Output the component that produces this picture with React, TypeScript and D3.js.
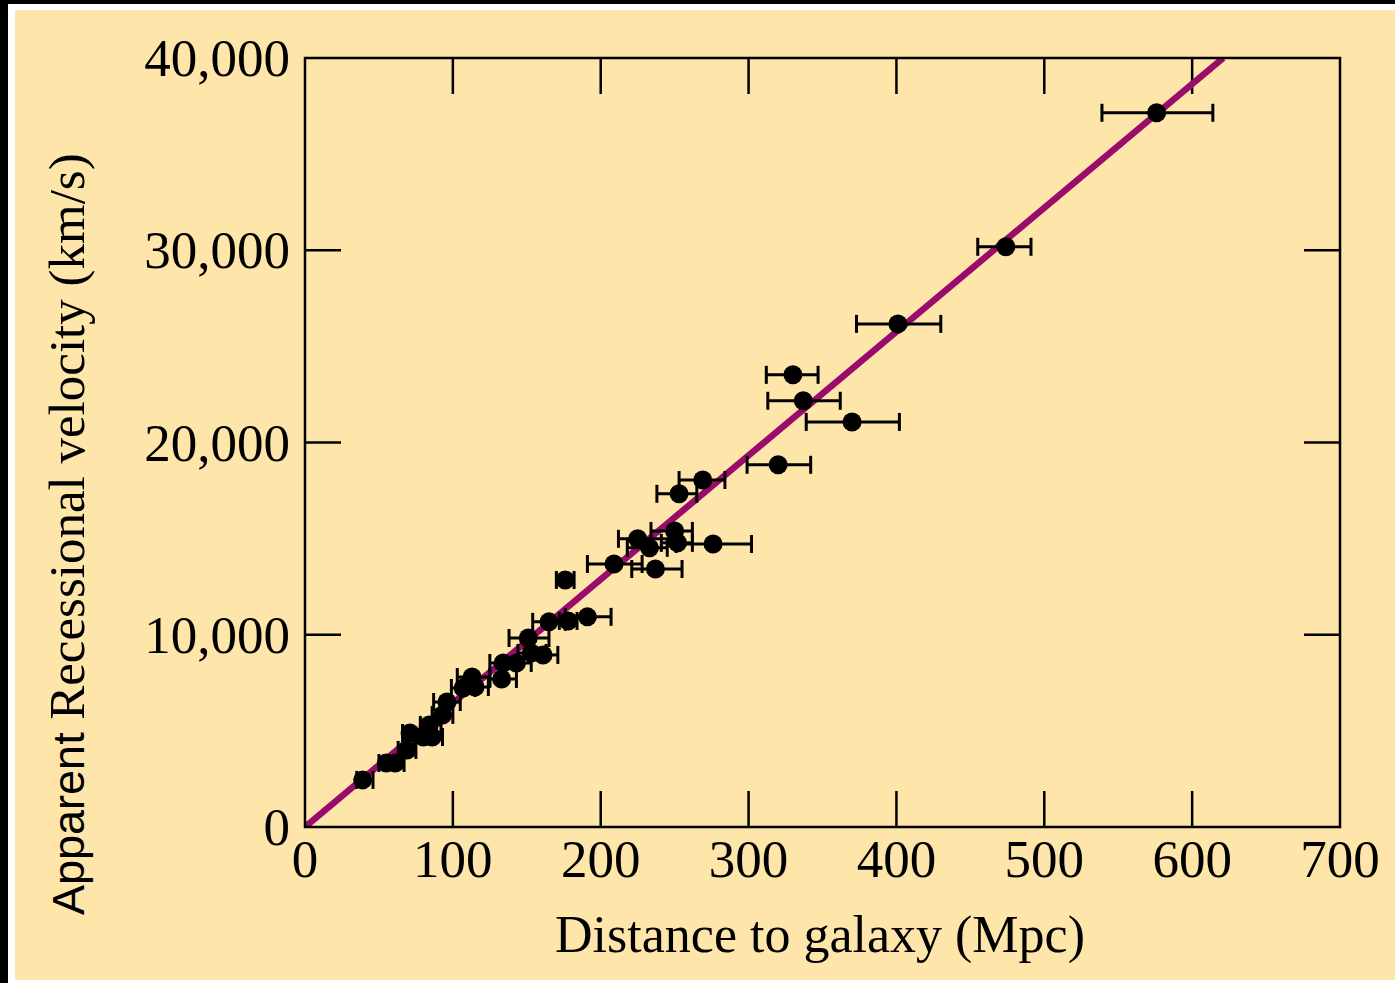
import React from 'react';
import * as d3 from 'd3';

// distance (Mpc), velocity (km/s), distance error bar ends (Mpc)
const DIST = [576, 474, 401, 330, 337, 370, 320, 269, 253, 250, 225, 233, 252, 276, 209, 237, 176, 191, 178, 165,
  151, 161, 153, 143, 134, 133, 113, 115, 107, 96, 93, 84, 86, 71, 80, 69, 61, 55, 39];
const VEL = [37150, 30180, 26170, 23520, 22170, 21070, 18840, 18050, 17330, 15400, 14990, 14520, 14780, 14720, 13680,
  13420, 12850, 10930, 10720, 10670, 9830, 8950, 9050, 8530, 8530, 7700, 7800, 7280, 7230, 6500, 5830, 5310, 4680,
  4890, 4680, 4010, 3330, 3330, 2450];
const ERR_LO = [539, 455, 373, 312, 313, 339, 299, 253, 238, 234, 212, 218, 241, 251, 191, 221, 170, 176, 172, 154,
  138, 152, 144, 134, 125, 125, 103, 106, 99, 87, 86, 78, 79, 66, 74, 63, 54, 50, 35];
const ERR_HI = [614, 491, 430, 347, 362, 402, 342, 284, 265, 262, 247, 245, 262, 302, 228, 255, 182, 207, 184, 176,
  165, 171, 163, 153, 144, 143, 125, 124, 115, 105, 100, 92, 93, 78, 85, 75, 67, 62, 46];

// Hubble-law fit line
const FIT_X = [0, 621];
const FIT_Y = [0, 40000];

const X_TICKS = [0, 100, 200, 300, 400, 500, 600, 700];
const Y_TICKS = [0, 10000, 20000, 30000, 40000];

const W = 1395, H = 983;
const m = { l: 305, r: 1340, t: 58, b: 827 };
const BG = '#fee6aa';
const LINE = '#9a0c6c';
const SERIF = "'Liberation Serif', 'DejaVu Serif', serif";
const SANS = "'Liberation Sans', 'DejaVu Sans', sans-serif";

export default function App() {
  const x = d3.scaleLinear().domain([0, 700]).range([m.l, m.r]);
  const y = d3.scaleLinear().domain([0, 40000]).range([m.b, m.t]);
  const fmt = d3.format(',');
  const tickLen = 36;
  const cap = 9;

  const fitLine = d3.line<number>().x(d => x(FIT_X[d])).y(d => y(FIT_Y[d]))([0, 1]) || '';

  return (
    <svg width={W} height={H} style={{ position: 'absolute', left: 0, top: 0 }}>
      <rect x={0} y={0} width={W} height={H} fill="#000" />
      <rect x={8} y={4} width={W - 8} height={H - 4} fill="#fff" />
      <rect x={15} y={10} width={W - 15} height={970} fill={BG} />

      <defs>
        <clipPath id="plot">
          <rect x={m.l} y={m.t} width={m.r - m.l} height={m.b - m.t} />
        </clipPath>
      </defs>

      {/* ticks, inward on all four sides */}
      <g stroke="#000" strokeWidth={2.5}>
        {X_TICKS.slice(1, -1).map(t => (
          <g key={'x' + t}>
            <line x1={x(t)} x2={x(t)} y1={m.b} y2={m.b - tickLen} />
            <line x1={x(t)} x2={x(t)} y1={m.t} y2={m.t + tickLen} />
          </g>
        ))}
        {Y_TICKS.slice(1, -1).map(t => (
          <g key={'y' + t}>
            <line x1={m.l} x2={m.l + tickLen} y1={y(t)} y2={y(t)} />
            <line x1={m.r} x2={m.r - tickLen} y1={y(t)} y2={y(t)} />
          </g>
        ))}
      </g>

      {/* tick labels */}
      <g fontFamily={SERIF} fontSize={53} fill="#000">
        {X_TICKS.map(t => (
          <text key={'xl' + t} x={x(t)} y={877} textAnchor="middle">{fmt(t)}</text>
        ))}
        {Y_TICKS.map(t => (
          <text key={'yl' + t} x={290} y={y(t)} dy="0.34em" textAnchor="end">{fmt(t)}</text>
        ))}
      </g>

      {/* axis titles */}
      <text x={820} y={952} textAnchor="middle" fontFamily={SERIF} fontSize={52} fill="#000">
        Distance to galaxy (Mpc)
      </text>
      <text transform="translate(84,915) rotate(-90)" fill="#000">
        <tspan fontFamily={SANS} fontSize={45}>Apparent </tspan>
        <tspan fontFamily={SERIF} fontSize={51}>Recessional velocity (km/s)</tspan>
      </text>

      {/* fit line */}
      <path d={fitLine} stroke={LINE} strokeWidth={6.5} fill="none" clipPath="url(#plot)" />

      {/* error bars and points */}
      <g stroke="#000" strokeWidth={3}>
        {DIST.map((d, i) => (
          <g key={'e' + i}>
            <line x1={x(ERR_LO[i])} x2={x(ERR_HI[i])} y1={y(VEL[i])} y2={y(VEL[i])} />
            <line x1={x(ERR_LO[i])} x2={x(ERR_LO[i])} y1={y(VEL[i]) - cap} y2={y(VEL[i]) + cap} />
            <line x1={x(ERR_HI[i])} x2={x(ERR_HI[i])} y1={y(VEL[i]) - cap} y2={y(VEL[i]) + cap} />
          </g>
        ))}
      </g>
      <g fill="#000">
        {DIST.map((d, i) => (
          <circle key={'p' + i} cx={x(d)} cy={y(VEL[i])} r={9.5} />
        ))}
      </g>

      {/* frame */}
      <rect x={m.l} y={m.t} width={m.r - m.l} height={m.b - m.t} fill="none" stroke="#000" strokeWidth={2.5} />
    </svg>
  );
}
